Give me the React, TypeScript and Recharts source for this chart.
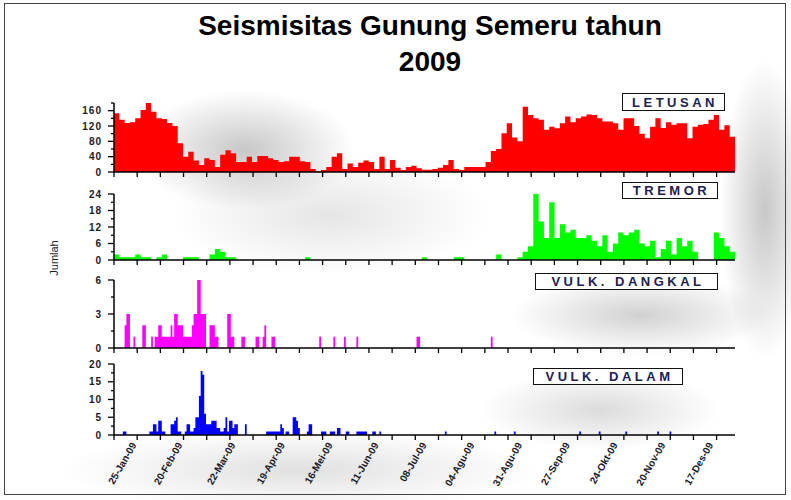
import { Area, AreaChart, XAxis, YAxis } from "recharts";

const W = 791;
const H = 500;
const PLOT_LEFT = 114;
const PLOT_RIGHT = 735;
const Y_AXIS_W = 40;
const X_AXIS_H = 10;

// x axis in day-of-year
const FIRST_DAY = 11;
const LAST_DAY = 362;
const BIN = 3; // days per value for letusan / tremor

const letusan = [
  153, 136, 128, 130, 140, 162, 183, 157, 140, 138,
  128, 120, 75, 40, 53, 30, 18, 36, 31, 13,
  45, 57, 49, 26, 26, 40, 26, 42, 42, 36,
  31, 26, 28, 40, 40, 28, 26, 8, 2, 5,
  13, 40, 49, 8, 22, 13, 24, 30, 26, 8,
  40, 8, 31, 11, 5, 13, 16, 10, 6, 6,
  8, 11, 18, 31, 8, 5, 13, 13, 13, 13,
  26, 55, 60, 101, 127, 90, 80, 170, 149, 140,
  136, 110, 118, 114, 127, 145, 130, 140, 145, 150,
  149, 140, 132, 132, 127, 110, 140, 140, 120, 100,
  88, 118, 140, 115, 130, 123, 127, 127, 88, 118,
  123, 125, 136, 149, 110, 122, 92,
];

const tremor = [
  2, 1, 1, 1, 2, 1, 1, 0, 1, 2,
  0, 0, 0, 1, 1, 1, 0, 0, 2, 4,
  3, 1, 1, 0, 0, 0, 0, 0, 0, 0,
  0, 0, 0, 0, 0, 0, 1, 0, 0, 0,
  0, 0, 0, 0, 0, 0, 0, 0, 0, 0,
  0, 0, 0, 0, 0, 0, 0, 0, 1, 0,
  0, 0, 0, 0, 1, 1, 0, 0, 0, 0,
  0, 0, 2, 0, 0, 0, 1, 3, 5, 24,
  14, 8, 21, 8, 13, 10, 11, 8, 8, 9,
  7, 5, 9, 3, 6, 10, 9, 10, 11, 6,
  5, 7, 1, 4, 7, 2, 8, 5, 7, 3,
  0, 0, 0, 10, 8, 5, 3,
];

// [day, count]
const vulkDangkal: [number, number][] = [
  [17, 2], [18, 3], [19, 3], [22, 1], [27, 2], [28, 2], [32, 1], [34, 1], [35, 1],
  [36, 2], [37, 2], [38, 1], [39, 1], [40, 1], [41, 1], [42, 1], [43, 2], [44, 1],
  [45, 3], [46, 3], [47, 2], [48, 2], [49, 2], [50, 1], [51, 1], [52, 1], [53, 1],
  [54, 1], [55, 2], [56, 3], [57, 3], [58, 6], [59, 6], [60, 3], [61, 3], [62, 3],
  [65, 2], [66, 2], [67, 2], [68, 1], [69, 1], [75, 3], [76, 3], [77, 1], [78, 1],
  [83, 1], [84, 1], [91, 1], [92, 1], [95, 1], [96, 2], [100, 1], [101, 1],
  [127, 1], [135, 1], [141, 1], [148, 1], [182, 1], [183, 1], [224, 1],
];

const vulkDalam: [number, number][] = [
  [16, 1], [17, 1], [31, 1], [32, 1], [33, 3], [34, 3], [35, 1], [36, 4], [37, 4],
  [38, 1], [39, 1], [43, 3], [44, 3], [45, 4], [46, 5], [47, 1], [48, 1], [51, 1],
  [52, 3], [53, 3], [54, 1], [55, 1], [56, 2], [57, 5], [58, 5], [59, 11], [60, 18],
  [61, 17], [62, 6], [63, 3], [64, 3], [65, 3], [66, 4], [67, 4], [68, 4], [69, 2],
  [70, 2], [71, 1], [72, 1], [73, 2], [74, 5], [75, 1], [76, 4], [77, 4], [78, 2],
  [79, 3], [80, 3], [85, 3], [97, 1], [98, 1], [99, 1], [100, 1], [101, 1],
  [102, 1], [103, 1], [104, 1], [105, 3], [106, 2], [108, 1], [109, 1], [112, 5],
  [113, 5], [114, 4], [115, 2], [120, 1], [121, 3], [122, 3], [128, 1], [129, 1],
  [130, 1], [133, 1], [134, 1], [135, 1], [137, 2], [138, 2], [142, 1], [143, 1],
  [148, 1], [149, 1], [150, 1], [151, 1], [152, 1], [153, 1], [157, 1], [158, 1],
  [161, 1], [198, 1], [226, 1], [237, 1], [274, 1], [285, 1], [300, 1], [318, 1],
  [325, 1],
];

const dateLabels = [
  "25-Jan-09", "20-Feb-09", "22-Mar-09", "19-Apr-09", "16-Mei-09", "11-Jun-09",
  "08-Jul-09", "04-Agu-09", "31-Agu-09", "27-Sep-09", "24-Okt-09", "20-Nov-09",
  "17-Des-09",
];
const labelDays = [25, 51, 81, 109, 136, 162, 189, 216, 243, 270, 297, 324, 351];

// plain tick marks every ~2 weeks along the time axis
const tickDays = Array.from({ length: 27 }, (_, k) => +(FIRST_DAY + k * 13.1).toFixed(1));

const binRows = (vals: number[]) => [
  ...vals.map((v, i) => ({ day: FIRST_DAY + i * BIN, v })),
  { day: FIRST_DAY + vals.length * BIN, v: vals[vals.length - 1] },
];

const dailyRows = (events: [number, number][]) => {
  const m = new Map(events);
  const rows: { day: number; v: number }[] = [];
  for (let d = FIRST_DAY; d <= LAST_DAY; d++) rows.push({ day: d, v: m.get(d) ?? 0 });
  return rows;
};

const FONT = "'Liberation Sans', Arial, sans-serif";

const panels = [
  {
    name: "LETUSAN", color: "#ff0000", top: 103, bottom: 172, max: 180,
    minor: 20, labels: [0, 40, 80, 120, 160], rows: binRows(letusan),
    box: { left: 622, top: 93, width: 103, height: 18 },
  },
  {
    name: "TREMOR", color: "#00ff00", top: 194, bottom: 260, max: 24,
    minor: 3, labels: [0, 6, 12, 18, 24], rows: binRows(tremor),
    box: { left: 622, top: 182, width: 96, height: 17 },
  },
  {
    name: "VULK. DANGKAL", color: "#ff00ff", top: 280, bottom: 348, max: 6,
    minor: 1.5, labels: [0, 3, 6], rows: dailyRows(vulkDangkal),
    box: { left: 535, top: 273, width: 183, height: 17 },
  },
  {
    name: "VULK. DALAM", color: "#0000ff", top: 364, bottom: 435, max: 20,
    minor: 2.5, labels: [0, 5, 10, 15, 20], rows: dailyRows(vulkDalam),
    box: { left: 533, top: 368, width: 150, height: 17 },
  },
];

// soft grey drop-shadow blotches seen behind the panels in the original export
const shadowBg = [
  "radial-gradient(ellipse 110px 60px at 245px 150px, rgba(0,0,0,0.22), rgba(0,0,0,0) 100%)",
  "radial-gradient(ellipse 45px 150px at 765px 210px, rgba(0,0,0,0.22), rgba(0,0,0,0) 100%)",
  "radial-gradient(ellipse 130px 40px at 640px 315px, rgba(0,0,0,0.18), rgba(0,0,0,0) 100%)",
  "radial-gradient(ellipse 120px 40px at 600px 410px, rgba(0,0,0,0.14), rgba(0,0,0,0) 100%)",
  "radial-gradient(ellipse 160px 60px at 330px 215px, rgba(0,0,0,0.10), rgba(0,0,0,0) 100%)",
  "radial-gradient(ellipse 240px 40px at 300px 470px, rgba(0,0,0,0.12), rgba(0,0,0,0) 100%)",
].join(", ");

function XTick({ x, y, payload, withLabels }: any) {
  const idx = labelDays.indexOf(payload.value);
  if (idx >= 0) {
    if (!withLabels) return <g />;
    const tx = x - 2;
    const ty = y + 10;
    return (
      <text
        x={tx}
        y={ty}
        transform={`rotate(-60 ${tx} ${ty})`}
        textAnchor="end"
        fontSize={10}
        fontFamily={FONT}
        fontWeight="bold"
        fill="#1a1a2a"
      >
        {dateLabels[idx]}
      </text>
    );
  }
  return <line x1={x} y1={y} x2={x} y2={y + 5} stroke="#000" strokeWidth={1.3} />;
}

function YTick({ x, y, payload, labels }: any) {
  const major = labels.includes(payload.value);
  return (
    <g>
      <line x1={x - (major ? 6 : 3)} y1={y} x2={x} y2={y} stroke="#000" strokeWidth={1.3} />
      {major && (
        <text
          x={x - 12}
          y={y}
          dy={3.5}
          textAnchor="end"
          fontSize={10}
          fontFamily={FONT}
          fontWeight="bold"
          letterSpacing={1}
          fill="#1a1a2a"
        >
          {payload.value}
        </text>
      )}
    </g>
  );
}

function Panel({ p, withLabels }: { p: (typeof panels)[number]; withLabels: boolean }) {
  const yTicks: number[] = [];
  for (let t = 0; t <= p.max + 1e-6; t += p.minor) yTicks.push(+t.toFixed(2));
  const xTicks = [...tickDays, ...labelDays].sort((a, b) => a - b);
  return (
    <div style={{ position: "absolute", left: 0, top: 0 }}>
      <AreaChart
        width={W}
        height={H}
        data={p.rows}
        margin={{
          top: p.top,
          bottom: H - p.bottom - X_AXIS_H,
          left: PLOT_LEFT - Y_AXIS_W,
          right: W - PLOT_RIGHT,
        }}
      >
        <XAxis
          type="number"
          dataKey="day"
          domain={[FIRST_DAY, LAST_DAY]}
          allowDataOverflow
          ticks={xTicks}
          interval={0}
          height={X_AXIS_H}
          tickSize={0}
          tickMargin={0}
          tickLine={false}
          axisLine={{ stroke: "#000", strokeWidth: 1.5 }}
          tick={(props: any) => <XTick {...props} withLabels={withLabels} />}
        />
        <YAxis
          type="number"
          domain={[0, p.max]}
          allowDataOverflow
          ticks={yTicks}
          interval={0}
          width={Y_AXIS_W}
          tickSize={0}
          tickMargin={0}
          tickLine={false}
          axisLine={{ stroke: "#000", strokeWidth: 1.5 }}
          tick={(props: any) => <YTick {...props} labels={p.labels} />}
        />
        <Area
          type="stepAfter"
          dataKey="v"
          stroke="none"
          fill={p.color}
          fillOpacity={1}
          dot={false}
          activeDot={false}
          isAnimationActive={false}
        />
      </AreaChart>
    </div>
  );
}

export default function App() {
  return (
    <div
      style={{
        position: "absolute",
        left: 0,
        top: 0,
        width: W,
        height: H,
        background: "#fff",
        fontFamily: FONT,
        overflow: "hidden",
      }}
    >
      <div style={{ position: "absolute", inset: 0, background: shadowBg }} />
      <div
        style={{
          position: "absolute",
          left: 4,
          top: 3,
          width: 780,
          height: 490,
          border: "1.5px solid #444",
        }}
      />
      <div
        style={{
          position: "absolute",
          left: 130,
          width: 600,
          top: 8,
          textAlign: "center",
          fontSize: 28,
          fontWeight: "bold",
          lineHeight: "36px",
          color: "#000",
        }}
      >
        Seismisitas Gunung Semeru tahun
        <br />
        2009
      </div>
      {panels.map((p, i) => (
        <Panel key={p.name} p={p} withLabels={i === panels.length - 1} />
      ))}
      {panels.map((p) => (
        <div
          key={p.name + "-box"}
          style={{
            position: "absolute",
            ...p.box,
            boxSizing: "border-box",
            border: "1.5px solid #111",
            background: "#fff",
            display: "flex",
            alignItems: "center",
            justifyContent: "center",
            fontSize: 13,
            fontWeight: "bold",
            letterSpacing: 3.5,
            color: "#1b2050",
            whiteSpace: "nowrap",
            paddingLeft: 3,
          }}
        >
          {p.name}
        </div>
      ))}
      <div
        style={{
          position: "absolute",
          left: 54,
          top: 258,
          transform: "translate(-50%, -50%) rotate(-90deg)",
          fontSize: 11,
          color: "#1a1a2a",
          whiteSpace: "nowrap",
        }}
      >
        Jumlah
      </div>
    </div>
  );
}
